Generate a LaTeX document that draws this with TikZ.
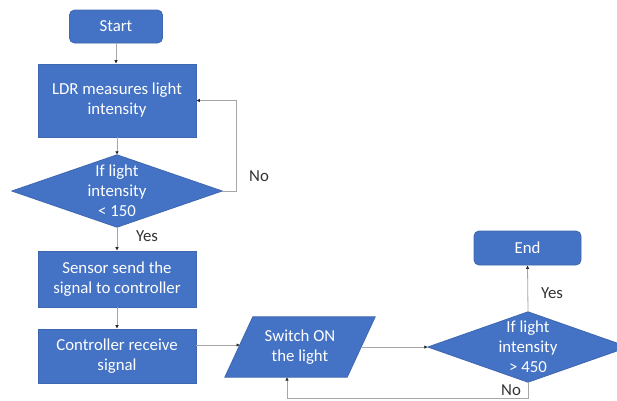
\documentclass[tikz,border=0pt]{standalone}
\usepackage{fontspec}
\setmainfont{Carlito}
\usetikzlibrary{arrows.meta,calc,backgrounds}
\definecolor{myblue}{HTML}{4472C4}
\definecolor{myborder}{HTML}{3F67B0}
\definecolor{conncol}{HTML}{A6A6A6}
\begin{document}
\begin{tikzpicture}[x=1pt,y=-1pt,
  txtfont/.style={font=\fontsize{16.8}{20}\selectfont},
  term/.style={txtfont, rounded corners=5pt, fill=myblue, draw=myborder, line width=0.8pt, text=white, align=center, inner sep=0pt},
  proc/.style={txtfont, fill=myblue, draw=myborder, line width=0.8pt, text=white, align=center, inner sep=0pt, minimum width=158},
  shapetext/.style={txtfont, text=white, align=center, inner sep=0pt},
  shapefill/.style={fill=myblue, draw=myborder, line width=0.8pt},
  lbl/.style={txtfont, text=black!80, inner sep=0pt},
  conn/.style={draw=conncol, line width=0.8pt, -{Latex[length=3.5pt,width=3.5pt,color=black!85]}}]
\useasboundingbox (0,0) rectangle (617,400);
\begin{pgfonlayer}{background}
\fill[white] (0,0) rectangle (617,400);
\end{pgfonlayer}

\node[term, minimum width=93, minimum height=33] (start) at (116,26.5) {Start};
\node[proc, minimum height=73] (ldr) at (117,100.5) {LDR measures light\\intensity};
\node[shapetext, minimum width=210, minimum height=72] (d1) at (117,191) {If light\\intensity\\< 150};
\node[proc, minimum height=56] (sensor) at (117,279) {Sensor send the\\signal to controller};
\node[proc, minimum height=54] (ctrl) at (117,356) {Controller receive\\signal};
\node[shapetext, minimum width=150, minimum height=60] (para) at (300,347) {Switch ON\\the light};
\node[shapetext, minimum width=200, minimum height=70] (d2) at (528,347) {If light\\intensity\\> 450};
\node[term, minimum width=107, minimum height=34] (end) at (527.5,248) {End};

\begin{pgfonlayer}{background}
\draw[shapefill] (d1.west) -- (d1.north) -- (d1.east) -- (d1.south) -- cycle;
\draw[shapefill] (d2.west) -- (d2.north) -- (d2.east) -- (d2.south) -- cycle;
\draw[shapefill] ($(para.north west)+(28,0)$) -- (para.north east) -- ($(para.south east)+(-28,0)$) -- (para.south west) -- cycle;
\end{pgfonlayer}

\coordinate (pl) at (240,345);
\coordinate (pr) at (362,347);
\coordinate (pb) at (287,377);

\draw[conn] (start.south) -- (start.south |- ldr.north);
\draw[conn] (ldr.south) -- (d1.north);
\draw[conn] (d1.south) -- (sensor.north);
\draw[conn] (sensor.south) -- (ctrl.north);
\draw[conn] (d1.east) -- ++(14,0) |- (ldr.east);
\draw[conn] (pl -| ctrl.east) -- (pl);
\draw[conn] (pr) -- (d2.west);
\draw[conn] (d2.north) -- (end.south);
\draw[conn] (d2.south) -- ++(0,16) -| (pb);

\node[lbl] (no1) at (259,176) {No};
\node[lbl] (yes1) at (147,236) {Yes};
\node[lbl] (yes2) at (552,293) {Yes};
\node[lbl] (no2) at (511,390) {No};
\end{tikzpicture}
\end{document}
